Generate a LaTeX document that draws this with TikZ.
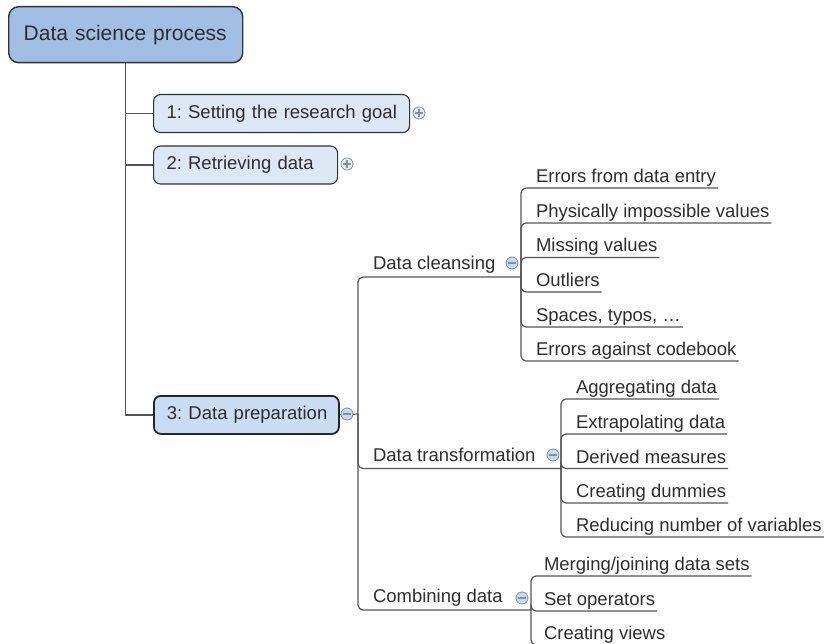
\documentclass[tikz,border=0pt]{standalone}
\usepackage{fontspec}
\setmainfont{Liberation Sans}
\definecolor{linegray}{RGB}{85,85,85}
\definecolor{textgray}{RGB}{45,45,45}
\definecolor{boxborder}{RGB}{50,50,50}
\definecolor{rootfill}{RGB}{160,191,227}
\definecolor{lonefill}{RGB}{221,232,246}
\definecolor{lthreefill}{RGB}{203,221,242}
\definecolor{iconfill}{RGB}{196,220,242}
\definecolor{plusfill}{RGB}{228,236,246}
\definecolor{icondraw}{RGB}{130,145,160}
\begin{document}
\frenchspacing
\begin{tikzpicture}[x=1pt,y=-1pt,
  conn/.style={draw=linegray, line width=1.2pt},
  rconn/.style={conn, rounded corners=5pt},
  rootbox/.style={draw=boxborder, line width=1.4pt, fill=rootfill, rounded corners=10pt,
    font=\fontsize{21}{25}\selectfont, text=textgray, inner xsep=15pt, inner ysep=0pt,
    minimum height=56pt, align=left, anchor=north west},
  lonebox/.style={draw=boxborder, line width=1.1pt, fill=lonefill, rounded corners=7pt,
    font=\fontsize{18.5}{22}\selectfont, text=textgray, inner xsep=13pt, inner ysep=0pt,
    minimum height=38pt, align=left, anchor=north west},
  lthreebox/.style={lonebox, fill=lthreefill, line width=1.8pt, draw=black!85},
  ltwo/.style={font=\fontsize{18.5}{22}\selectfont, text=textgray, inner sep=0pt, outer sep=0pt, anchor=base west},
  leaf/.style={font=\fontsize{18.5}{22}\selectfont, text=textgray, inner xsep=2pt, inner ysep=0pt,
    outer sep=0pt, text depth=5.5pt, anchor=base west},
  iconbase/.style={circle, minimum size=12pt, inner sep=0pt, draw=icondraw, line width=0.8pt},
  minusicon/.style={iconbase, fill=iconfill,
    path picture={\draw[icondraw, line width=1.1pt]
      ([xshift=-3.6pt]path picture bounding box.center) -- ([xshift=3.6pt]path picture bounding box.center);}},
  plusicon/.style={iconbase, fill=plusfill,
    path picture={\draw[icondraw, line width=1.1pt]
      ([xshift=-3.6pt]path picture bounding box.center) -- ([xshift=3.6pt]path picture bounding box.center)
      ([yshift=-3.6pt]path picture bounding box.center) -- ([yshift=3.6pt]path picture bounding box.center);}}
]
\useasboundingbox (0,0) rectangle (824,644);
\clip (0,0) rectangle (824,644);

% root and level-1 boxes
\node[rootbox, text width=204pt] (root) at (8,6) {\mbox{Data science process}};
\node[lonebox, text width=230pt] (n1) at (153,94) {\mbox{1: Setting the research goal}};
\node[lonebox, text width=158pt] (n2) at (153,145.5) {\mbox{2: Retrieving data}};
\node[lthreebox, text width=159pt] (n3) at (153,395) {\mbox{3: Data preparation}};

% root connectors
\draw[conn] (root.south) |- (n1.west);
\draw[conn] (root.south) |- (n2.west);
\draw[conn] (root.south) |- (n3.west);

% junctions
\coordinate (j2) at (358,414);
\coordinate (dcj) at (521,277);
\coordinate (dtj) at (561,468.5);
\coordinate (cdj) at (531,610);

\draw[conn] (n3.east) -- (j2);
\draw[rconn] (j2) |- (dcj);
\draw[rconn] (j2) |- (dtj);
\draw[rconn] (j2) |- (cdj);

% level-2 labels
\node[ltwo] (dc) at (373,269.5) {Data cleansing};
\node[ltwo] (dt) at (373,461) {Data transformation};
\node[ltwo] (cd) at (373,602.5) {Combining data};

% data cleansing leaves
\node[leaf] (a1) at (534,182.5) {Errors from data entry};
\node[leaf] (a2) at (534,217.5) {Physically impossible values};
\node[leaf] (a3) at (534,252) {Missing values};
\node[leaf] (a4) at (534,286.5) {Outliers};
\node[leaf] (a5) at (534,321.5) {Spaces, typos, …};
\node[leaf] (a6) at (534,355.5) {Errors against codebook};
\foreach \n in {a1,a2,a3,a4,a5,a6} \draw[rconn] (dcj) |- (\n.south east);

% data transformation leaves
\node[leaf] (b1) at (574,393.5) {Aggregating data};
\node[leaf] (b2) at (574,428.5) {Extrapolating data};
\node[leaf] (b3) at (574,463) {Derived measures};
\node[leaf] (b4) at (574,497.5) {Creating dummies};
\node[leaf] (b5) at (574,531.5) {Reducing number of variables};
\foreach \n in {b1,b2,b3,b4,b5} \draw[rconn] (dtj) |- (\n.south east);

% combining data leaves
\node[leaf] (c1) at (542,570.5) {Merging/joining data sets};
\node[leaf] (c2) at (542,605.5) {Set operators};
\node[leaf] (c3) at (542,639.5) {Creating views};
\foreach \n in {c1,c2,c3} \draw[rconn] (cdj) |- (\n.south east);

% icons
\node[plusicon] (i1) at (419,113) {};
\node[plusicon] (i2) at (347,164) {};
\node[minusicon] (i3) at (347,414) {};
\node[minusicon] (i4) at (512,263) {};
\node[minusicon] (i5) at (553,455) {};
\node[minusicon] (i6) at (522,598) {};
\end{tikzpicture}
\end{document}
